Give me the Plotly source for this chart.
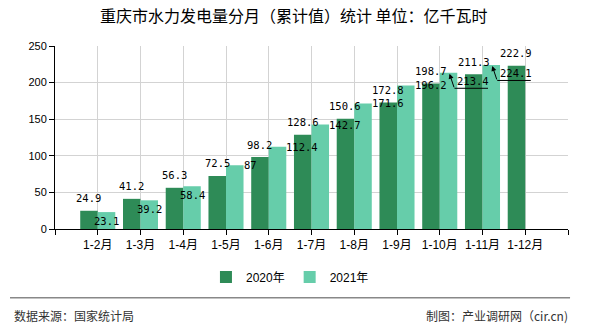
import plotly.graph_objects as go

categories = ["1-2月", "1-3月", "1-4月", "1-5月", "1-6月", "1-7月",
              "1-8月", "1-9月", "1-10月", "1-11月", "1-12月"]
values_2020 = [24.9, 41.2, 56.3, 72.5, 98.2, 128.6, 150.6, 172.8, 198.7, 211.3, 222.9]
values_2021 = [23.1, 39.2, 58.4, 87, 112.4, 142.7, 171.6, 196.2, 213.4, 224.1]
y_ticks = [0, 50, 100, 150, 200, 250]

title_text = "重庆市水力发电量分月（累计值）统计 单位：亿千瓦时"
source_text = "数据来源：国家统计局"
maker_text = "制图：产业调研网（cir.cn)"

C2020 = "#2E8B57"
C2021 = "#66CDAA"
LABEL_FONT = dict(family="DejaVu Sans Mono, Liberation Mono, monospace", size=10.5, color="#000")
CJK = "Liberation Sans, Noto Sans CJK SC, sans-serif"

xpos = list(range(1, len(categories) + 1))
BARGAP = 0.18
half = (1 - BARGAP) / 2          # width of one bar in axis units
off = half / 2                   # centre offset of each bar

fig = go.Figure()
fig.add_trace(go.Bar(name="2020年", x=xpos, y=values_2020,
                     marker=dict(color=C2020, line=dict(width=0)), hoverinfo="skip"))
fig.add_trace(go.Bar(name="2021年", x=xpos[:len(values_2021)], y=values_2021,
                     marker=dict(color=C2021, line=dict(width=0)), hoverinfo="skip"))

ann = []
for x, v in zip(xpos, values_2020):
    ann.append(dict(x=x - off, y=v, xref="x", yref="y", text=f"{v:g}", showarrow=False,
                    xanchor="center", yanchor="middle", yshift=12.5, font=LABEL_FONT))

placement = ["inside"] * 3 + ["right"] * 5 + ["arrow"] * 2
for x, v, p in zip(xpos, values_2021, placement):
    if p == "inside":
        ann.append(dict(x=x + off, y=v, xref="x", yref="y", text=f"{v:g}", showarrow=False,
                        xanchor="center", yanchor="middle", yshift=-9, font=LABEL_FONT))
    elif p == "right":
        ann.append(dict(x=x + half, y=v, xref="x", yref="y", text=f"{v:g}", showarrow=False,
                        xanchor="left", yanchor="middle", xshift=-2, font=LABEL_FONT))
    else:
        # arrow pointing to bar top
        ann.append(dict(x=x + off, y=v, xref="x", yref="y", text="", showarrow=True,
                        arrowhead=2, arrowsize=1, arrowwidth=1, arrowcolor="#000",
                        standoff=0, ax=5, ay=15, xshift=1, yshift=-1))
        # underline
        ann.append(dict(x=x + off, y=v, xref="x", yref="y", text="", showarrow=True,
                        arrowhead=0, arrowwidth=1, arrowcolor="#000", standoff=0,
                        ax=35, ay=0, xshift=6, yshift=-15.5))
        ann.append(dict(x=x + off, y=v, xref="x", yref="y", text=f"{v:g}", showarrow=False,
                        xanchor="left", yanchor="middle", xshift=6.5, yshift=-8,
                        font=LABEL_FONT))

ann.append(dict(x=-0.084, y=-0.475, xref="paper", yref="paper", text=source_text,
                showarrow=False, xanchor="left", yanchor="middle",
                font=dict(family="Noto Sans CJK SC", size=12, color="#333")))
ann.append(dict(x=1.004, y=-0.475, xref="paper", yref="paper", text=maker_text,
                showarrow=False, xanchor="right", yanchor="middle",
                font=dict(family="Noto Sans CJK SC", size=12, color="#333")))

fig.update_layout(
    width=590, height=330,
    margin=dict(l=55, r=22, t=46, b=101, autoexpand=False),
    paper_bgcolor="white", plot_bgcolor="white",
    barmode="group", bargap=BARGAP, bargroupgap=0,
    title=dict(text=title_text, x=0.498, xref="container", xanchor="center",
               y=1 - 16 / 330, yref="container", yanchor="middle",
               font=dict(family="Noto Sans CJK SC", size=16, color="#000")),
    legend=dict(orientation="h", x=0.458, xanchor="center",
                y=-0.262, yanchor="middle", font=dict(family=CJK, size=12, color="#000"),
                itemwidth=30, tracegroupgap=0, bgcolor="rgba(0,0,0,0)"),
    annotations=ann,
    shapes=[dict(type="line", xref="paper", yref="paper", x0=-0.0877, x1=1.004,
                 y0=-0.3754, y1=-0.3754, line=dict(color="#888", width=1.5))],
    xaxis=dict(range=[0, len(categories) + 1],
               tickvals=[0] + xpos + [len(categories) + 1],
               ticktext=[""] + categories + [""], tickangle=0,
               showgrid=True, gridcolor="#d3d3d3", gridwidth=1,
               showline=True, linecolor="#000", linewidth=1,
               ticks="outside", ticklen=5, tickcolor="#000",
               zeroline=False, tickfont=dict(family=CJK, size=12, color="#000")),
    yaxis=dict(range=[0, 250], tickvals=y_ticks,
               showgrid=True, gridcolor="#d3d3d3", gridwidth=1,
               showline=True, linecolor="#000", linewidth=1,
               ticks="outside", ticklen=5, tickcolor="#000",
               zeroline=False, tickfont=dict(family="Liberation Sans", size=11, color="#000")),
)

fig.write_html("out.html")
